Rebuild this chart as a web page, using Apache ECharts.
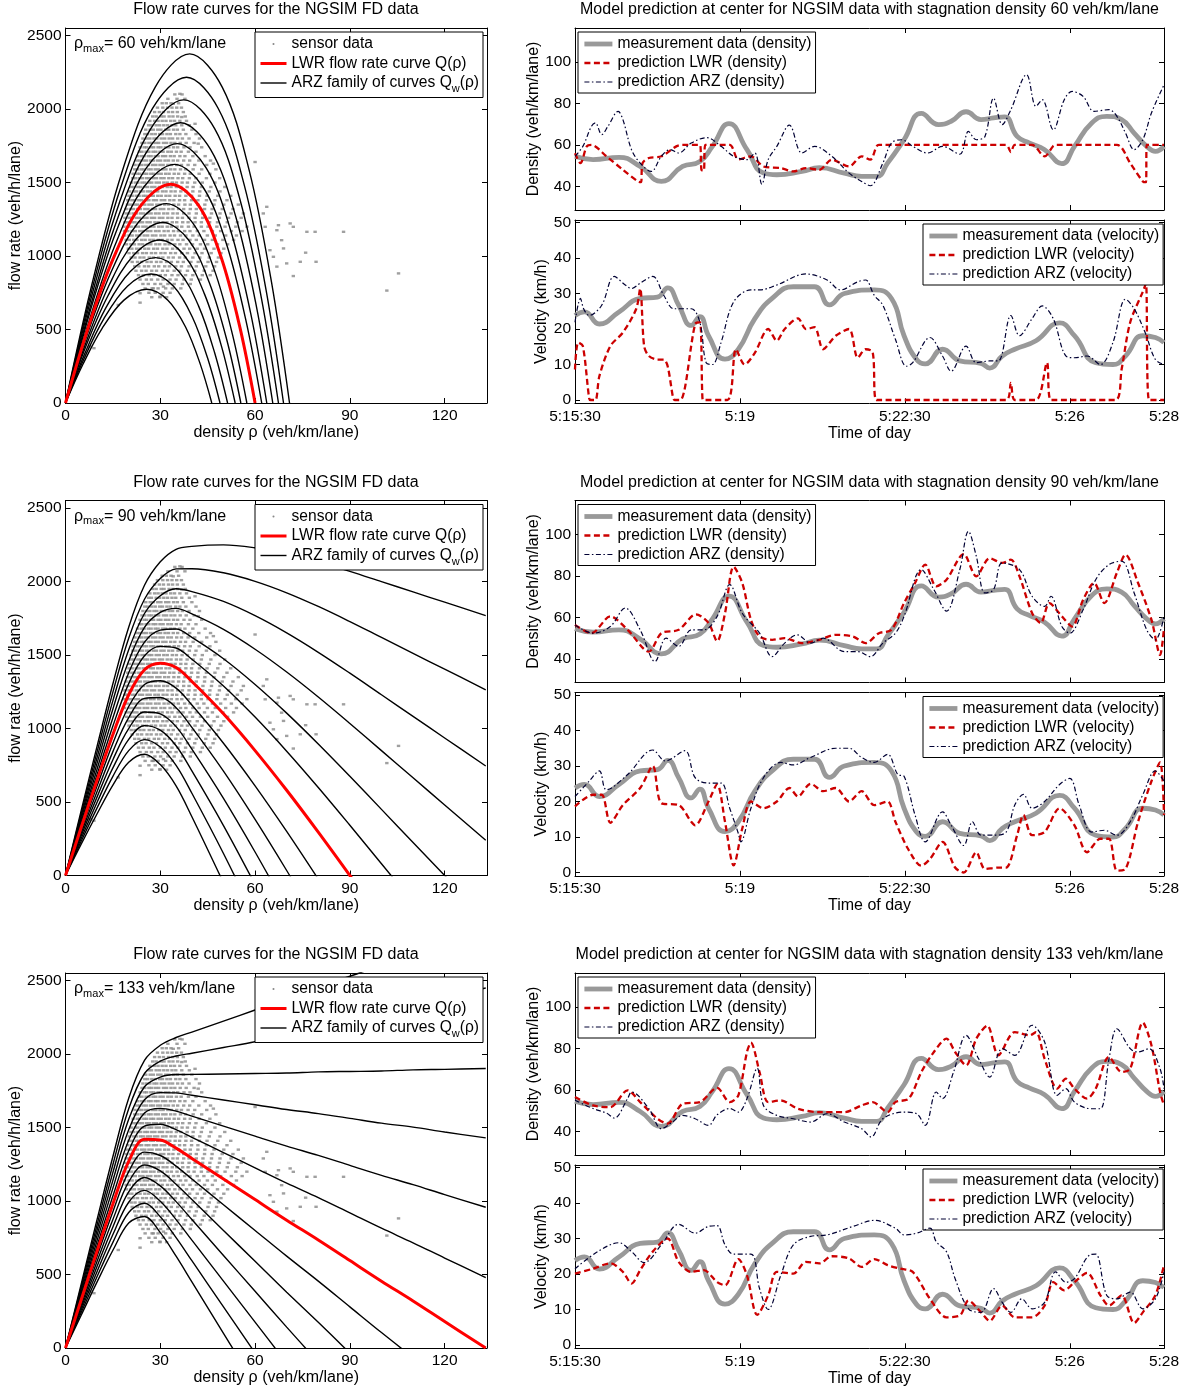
<!DOCTYPE html>
<html><head><meta charset="utf-8">
<script src="https://cdn.jsdelivr.net/npm/echarts@6.0.0/dist/echarts.min.js"></script>
<style>html,body{margin:0;padding:0;background:#fff}#c{width:1188px;height:1388px}</style>
</head><body><div id="c"></div>
<script>
// ---------------- DATA ----------------
const rhoMaxValues = [60, 90, 133];
const fdXTicks = [0, 30, 60, 90, 120];
const fdYTicks = [0, 500, 1000, 1500, 2000, 2500];
const timeTickSec = [0, 210, 420, 630, 750];
const timeTickLabels = ['5:15:30', '5:19', '5:22:30', '5:26', '5:28'];
const denTicks = [40, 60, 80, 100];
const velTicks = [0, 10, 20, 30, 40, 50];

// rho_max = 60 : family of flow curves [density, flow]
const fd60Black = [
 [[0,0],[8.5,820],[17.7,1559],[28.4,2150],[39.3,2376],[49.6,2150],[58.1,1587],[65.2,822],[70.9,0]],
 [[0,0],[8.3,765],[17.3,1454],[27.6,2006],[38.3,2217],[48.3,2006],[56.6,1481],[63.5,767],[69,0]],
 [[0,0],[8.1,712],[16.9,1353],[27,1867],[37.4,2063],[47.2,1867],[55.3,1378],[62,714],[67.4,0]],
 [[0,0],[7.9,658],[16.4,1251],[26.2,1726],[36.4,1907],[45.9,1726],[53.8,1274],[60.4,660],[65.6,0]],
 [[0,0],[7.6,609],[15.9,1158],[25.5,1597],[35.4,1765],[44.6,1597],[52.2,1179],[58.6,611],[63.7,0]],
 [[0,0],[7.5,560],[15.5,1065],[24.8,1470],[34.5,1624],[43.5,1470],[50.9,1085],[57.1,562],[62.1,0]],
 [[0,0],[6.9,468],[14.4,890],[23,1228],[31.9,1357],[40.2,1228],[47.1,906],[52.8,470],[57.4,0]],
 [[0,0],[6.7,424],[13.9,806],[22.2,1111],[30.8,1228],[38.9,1111],[45.5,820],[51.1,425],[55.5,0]],
 [[0,0],[6.4,383],[13.4,728],[21.5,1004],[29.8,1109],[37.6,1004],[44,741],[49.4,384],[53.7,0]],
 [[0,0],[6.2,341],[12.8,649],[20.5,895],[28.5,989],[35.9,895],[42.1,661],[47.2,342],[51.3,0]],
 [[0,0],[5.9,303],[12.2,576],[19.6,795],[27.1,878],[34.2,795],[40.1,587],[45,304],[48.9,0]],
 [[0,0],[5.6,267],[11.6,508],[18.5,700],[25.7,774],[32.4,700],[38,517],[42.6,268],[46.3,0]]
];
const fd60Red = [[0,0],[7.2,514],[15,977],[24,1348],[33.3,1489],[42,1348],[49.2,995],[55.2,515],[60,0]];

// rho_max = 90 and 133 : flow values on a shared density grid
const rhoGrid = [0,5,10,15,20,25,30,35,40,50,60,70,80,90,100,110,120,133];
const fd90Black = [
 [0,445,880,1305,1690,1975,2135,2220,2240,2250,2230,2190,2135,2070,2000,1930,1860,1769],
 [0,426,842,1248,1614,1880,2021,2087,2088,2060,2002,1924,1831,1728,1620,1512,1404,1264],
 [0,407,803,1190,1536,1783,1904,1951,1932,1865,1768,1651,1519,1377,1230,1083,936,745],
 [0,388,765,1133,1460,1688,1790,1818,1780,1675,1540,1385,1215,1035,850,665,480,240],
 [0,368,725,1073,1380,1588,1670,1678,1620,1475,1300,1105,895,675,450,225,0,-293],
 [0,349,688,1017,1306,1495,1559,1548,1472,1290,1078,846,599,342,80,-182],
 [0,310,610,900,1150,1300,1325,1275,1160,900,610,300,-25],
 [0,291,572,843,1074,1205,1211,1142,1008,710,382,34,-329],
 [0,273,535,788,1000,1113,1100,1013,860,525,160,-225],
 [0,254,498,732,926,1020,989,883,712,340,-62],
 [0,235,460,675,850,925,875,750,560,150,-290],
 [0,215,420,615,770,825,755,610,400,-50]
];
const fd90Red = [0,330,650,960,1230,1400,1445,1415,1320,1100,850,580,295,0,-300];
const fd133Black = [
 [0,438,875,1303,1700,1958,2060,2113,2150,2225,2300,2375,2455,2530,2605,2685,2760,2860],
 [0,420,839,1249,1628,1868,1952,1987,2006,2045,2084,2140,2190,2240,2290,2340,2390,2450],
 [0,402,803,1195,1556,1778,1844,1861,1862,1865,1868,1871,1879,1882,1885,1893,1896,1902],
 [0,384,768,1141,1485,1689,1738,1736,1720,1688,1655,1623,1595,1563,1530,1503,1470,1430],
 [0,366,732,1088,1414,1600,1631,1612,1578,1510,1442,1374,1311,1243,1175,1112,1044,958],
 [0,348,696,1034,1342,1510,1523,1486,1434,1330,1226,1122,1023,919,815,716,612,479],
 [0,313,625,928,1200,1333,1310,1238,1150,975,800,625,455,280,105,-65],
 [0,295,590,875,1130,1245,1205,1115,1010,800,590,380,175,-35],
 [0,278,556,824,1062,1160,1103,996,874,630,386,142,-97],
 [0,261,521,772,992,1073,998,874,734,455,176,-103],
 [0,243,486,719,922,985,893,751,594,280,-34],
 [0,225,450,665,850,895,785,625,450,100,-250]
];
const fd133Red = [0,330,660,980,1270,1420,1415,1360,1290,1150,1010,870,735,595,455,320,180,0];

// sensor data: [flow, [densities observed at that flow]]
const sensorRows = [
 [2100,[34.6,36.9]],
 [2070,[32.4,35.3,37.8]],
 [2040,[30.6,31.9,33.4,35.8]],
 [2010,[29.1,30.8,32.3,33.7,35.2,36.7]],
 [1980,[28.2,29.7,31.0,32.6,33.9,35.4,37.3]],
 [1950,[27.6,28.7,30.3,31.2,32.8,34.0,35.5,37.9]],
 [1920,[26.7,28.2,29.3,30.6,31.8,33.3,34.5,36.2,38.3]],
 [1890,[26.3,27.2,28.7,29.8,31.1,32.3,33.7,34.9,36.8,39.2]],
 [1860,[25.4,26.8,27.8,29.2,30.2,31.7,32.7,34.2,35.4,37.3,40.0]],
 [1830,[25.1,26.0,27.3,28.4,29.8,30.7,32.1,33.2,34.9,36.2,38.1,41.3]],
 [1800,[24.5,25.7,26.7,28.0,28.9,30.3,31.4,32.8,33.9,35.5,37.0,39.1,42.4]],
 [1770,[24.2,25.1,26.4,27.3,28.5,29.5,31.0,32.0,33.4,34.6,36.3,38.2,40.7]],
 [1740,[23.6,24.9,25.7,27.0,27.9,29.3,30.2,31.6,32.7,34.2,35.5,37.5,39.4,43.1]],
 [1710,[23.4,24.2,25.5,26.4,27.7,28.6,29.9,30.9,32.4,33.5,35.1,36.6,38.9,41.3]],
 [1680,[22.8,24.0,24.9,26.2,27.1,28.4,29.3,30.7,31.7,33.2,34.4,36.2,37.8,40.3,44.2]],
 [1650,[22.6,23.5,24.7,25.6,26.9,27.8,29.1,30.1,31.5,32.6,34.1,35.5,37.4,39.3,42.2,45.9]],
 [1620,[22.0,23.3,24.2,25.4,26.3,27.6,28.6,29.9,30.9,32.4,33.5,35.2,36.7,38.8,40.9,44.7]],
 [1590,[21.9,22.8,24.0,24.9,26.2,27.1,28.4,29.4,30.8,31.8,33.3,34.6,36.4,38.0,40.4,43.1,47.6]],
 [1560,[21.4,22.7,23.5,24.8,25.7,27.0,27.9,29.3,30.3,31.7,32.8,34.4,35.8,37.7,39.5,42.3,45.7]],
 [1530,[21.3,22.2,23.4,24.3,25.6,26.5,27.8,28.8,30.2,31.2,32.7,33.9,35.6,37.1,39.2,41.3,44.6,48.8]],
 [1500,[20.8,22.1,22.9,24.2,25.1,26.4,27.3,28.7,29.7,31.1,32.2,33.8,35.1,36.9,38.6,40.9,43.3,47.3]],
 [1470,[20.7,21.6,22.9,23.8,25.1,26.0,27.3,28.3,29.7,30.7,32.2,33.4,35.1,36.5,38.5,40.4,43.0,46.0,50.4]],
 [1440,[20.2,21.5,22.4,23.7,24.6,25.9,26.9,28.2,29.2,30.7,31.8,33.4,34.7,36.5,38.1,40.3,42.5,45.5,48.9]],
 [1410,[20.1,21.1,22.4,23.3,24.6,25.5,26.9,27.8,29.2,30.3,31.8,33.0,34.7,36.1,38.1,39.9,42.4,44.8,48.2,52.3]],
 [1380,[19.7,21.0,21.9,23.2,24.1,25.5,26.4,27.8,28.8,30.3,31.4,33.0,34.3,36.1,37.7,39.9,41.9,44.6,47.3,51.1]],
 [1350,[19.6,20.6,21.9,22.8,24.1,25.1,26.4,27.4,28.9,29.9,31.4,32.6,34.3,35.8,37.8,39.5,41.9,44.1,47.0,50.1,54.7]],
 [1320,[19.2,20.5,21.5,22.8,23.7,25.1,26.1,27.5,28.5,30.0,31.1,32.7,34.0,35.8,37.4,39.5,41.4,44.0,46.4,49.6,53.0]],
 [1290,[19.2,20.1,21.4,22.4,23.7,24.7,26.1,27.1,28.5,29.6,31.1,32.3,34.0,35.4,37.4,39.1,41.4,43.5,46.2,48.9,52.4,56.3]],
 [1260,[18.8,20.1,21.0,22.4,23.4,24.8,25.8,27.2,28.2,29.7,30.8,32.4,33.7,35.5,37.0,39.1,41.0,43.4,45.7,48.7,51.6,55.6]],
 [1230,[18.8,19.7,21.1,22.0,23.4,24.4,25.8,26.8,28.3,29.4,30.9,32.1,33.8,35.2,37.1,38.8,41.0,43.0,45.6,48.1,51.2,54.4]],
 [1200,[18.5,19.8,20.8,22.1,23.1,24.5,25.5,26.9,28.0,29.5,30.6,32.2,33.5,35.3,36.8,38.9,40.7,43.0,45.1,47.9,50.5,53.9,57.4]],
 [1170,[18.7,19.7,21.1,22.1,23.5,24.5,25.9,27.0,28.5,29.6,31.2,32.5,34.2,35.7,37.7,39.4,41.7,43.8,46.5,49.1,52.5,55.9]],
 [1140,[18.7,20.1,21.1,22.5,23.5,24.9,26.0,27.5,28.6,30.2,31.4,33.1,34.5,36.4,38.1,40.3,42.3,44.9,47.4,50.7,54.1]],
 [1110,[19.2,20.2,21.6,22.6,24.1,25.2,26.7,27.8,29.4,30.6,32.3,33.7,35.6,37.2,39.4,41.4,44.0,46.5,49.8,53.2]],
 [1080,[19.3,20.7,21.8,23.3,24.4,25.9,27.0,28.6,29.8,31.5,32.8,34.6,36.2,38.3,40.2,42.7,45.0,48.1,51.3]],
 [1050,[19.9,21.0,22.5,23.6,25.1,26.3,27.9,29.1,30.8,32.1,33.9,35.4,37.5,39.3,41.7,44.0,47.0,50.1]],
 [1020,[20.1,21.6,22.8,24.4,25.6,27.2,28.5,30.2,31.5,33.3,34.8,36.8,38.6,41.0,43.2,46.1,49.2]],
 [990,[20.8,22.0,23.6,24.8,26.5,27.8,29.5,30.8,32.6,34.1,36.1,37.9,40.3,42.5,45.5,48.4]],
 [960,[21.1,22.8,24.1,25.8,27.1,28.8,30.2,32.0,33.5,35.5,37.3,39.7,42.0,45.1,47.8]],
 [930,[21.9,23.2,25.0,26.3,28.1,29.5,31.4,32.9,34.9,36.7,39.1,41.4,44.4,47.2]],
 [900,[22.3,24.1,25.5,27.3,28.8,30.7,32.3,34.4,36.2,38.6,40.9,43.9,46.7]],
 [870,[23.1,24.6,26.5,28.0,30.0,31.6,33.7,35.6,38.0,40.3,43.3,45.8]],
 [840,[23.6,25.6,27.2,29.2,30.9,33.1,35.0,37.5,39.8,42.7]],
 [810,[24.5,26.2,28.3,30.1,32.4,34.4,37.0,39.5]],
 [780,[25.2,27.4,29.3,31.7,33.8,36.5]],
 [750,[26.4,28.4,30.9,33.1]],
 [720,[27.3,29.9,32.0]]
];
const sensorOutliers = [[60,1640],[66.9,1176],[67.4,1210],[71.1,1222],[72.1,1199],[76.4,1165],[79,1165],[88,1165],
 [68.4,1108],[69,1052],[70,950],[66.9,928],[72.1,864],[74.3,961],[76,1023],[79.3,961],[101.7,765],[105.4,882],
 [64.7,1040],[65.8,995],[63.2,1199],[63.7,1335],[62.6,1290],[16.7,667],[23.6,683],[23.6,747],[7.7,385],[9,373],
 [29.9,724],[31,792],[27.8,780],[36.2,2104],[36.8,1946],[41,1900],[42,1765],[46.8,1629],[34.1,2036]];

// time series: [seconds after 5:15:30, value]
const measDen = [[0,54.5],[23,52.9],[56,54],[83,49.6],[110,42.4],[137,49.6],[159,52],[175,59.3],[196,70.3],[219,57.7],[240,46.4],[257,45.6],[289,47.2],[311,49],[343,46.4],[365,44.8],[384,44.8],[398,51.2],[419,62.5],[441,75.2],[463,69.8],[479,71.4],[498,76],[517,72.2],[533,73],[547,73.5],[563,64.1],[579,60.9],[598,57.7],[620,51],[636,59.3],[658,70.6],[677,73.8],[696,72.2],[712,65.7],[728,59.3],[739,56.9],[750,59.3]];
const measVel = [[0,23.8],[12,24.8],[31,21.4],[56,24.8],[83,28.6],[105,29],[118,31.6],[132,26.7],[148,21],[159,23.5],[170,18.1],[191,11.5],[208,14.3],[229,22.9],[251,28.6],[278,31.9],[305,31.9],[324,26.8],[343,30],[381,31],[403,28.6],[419,18.1],[435,11.4],[446,10.2],[468,14.3],[490,11],[517,10.3],[528,9],[544,12.4],[560,14.3],[587,16.7],[617,21.7],[636,18.1],[663,10.5],[685,10],[701,12.4],[723,18.1],[739,17.6],[750,16.2]];

const lwrDen60 = [[0,56],[7,51.2],[15,59.3],[21,60],[40,54.5],[61,48],[80,42.4],[84,42],[86,51.2],[94,53.7],[110,54.5],[129,59.3],[137,60],[159,60],[161,48],[164,47.5],[166,60],[197,60],[208,53],[224,54.5],[240,49.6],[262,48.8],[278,47.2],[294,48.8],[311,48],[327,52.9],[349,49.6],[365,54.5],[376,52.9],[384,59.3],[387,60],[549,60],[555,56.5],[560,60],[582,60],[598,54.5],[609,59.5],[612,60],[690,60],[707,51.2],[723,42.4],[727,42],[728,60],[750,60]];
const arzDen60 = [[0,54.5],[10,59.3],[21,69],[26,70.6],[34,65],[42,69],[55,76.2],[61,72.2],[72,57.7],[83,51.2],[97,47.2],[110,54.5],[121,57.7],[132,56.1],[148,60.9],[168,63.5],[186,59.3],[202,54.5],[219,52.9],[229,56.1],[238,41],[246,52.9],[257,59.3],[273,69.5],[289,56.1],[305,59.3],[327,54.5],[349,46.4],[365,42.4],[376,40.3],[392,51.2],[403,60.9],[416,62.5],[430,59.3],[449,56.1],[468,59.3],[490,55.5],[501,66.5],[511,62.5],[522,64.1],[533,82.6],[544,69.8],[555,77],[575,93.9],[587,78.6],[595,81.8],[609,67.3],[623,81.8],[633,85.8],[647,83.4],[661,76.2],[680,77],[690,73.8],[701,65.7],[712,57.7],[723,62.5],[734,75.4],[750,89]];
const lwrVel60 = [[0,8.6],[4,16.2],[10,15.2],[18,0.5],[20,0],[26,0],[31,6.7],[45,15.2],[61,19],[78,25.7],[83,31.4],[88,15.2],[94,12.4],[105,11.4],[113,11.4],[118,9.5],[125,0.5],[127,0],[134,0],[153,21.4],[159,21.9],[162,2],[163,0],[194,0],[205,14.3],[216,10],[229,13.3],[246,20],[257,16.7],[267,20],[284,23],[294,20],[305,20.5],[316,14.3],[332,18.1],[349,20],[360,11.9],[370,14.3],[379,13.5],[384,0],[549,0],[555,4.8],[560,0],[587,0],[601,10.5],[606,0],[688,0],[696,8.6],[707,21.9],[723,30.5],[727,32.8],[731,0],[750,0]];
const arzVel60 = [[0,21.9],[7,28.6],[11,25.7],[18,23.8],[34,26.7],[50,34.8],[64,32.4],[72,31.4],[83,32.9],[99,34.8],[113,29.5],[126,25.7],[148,25.7],[159,21.9],[167,10.5],[175,10],[186,16.2],[202,27.6],[224,31],[235,31],[257,32.4],[294,35.5],[321,33.8],[338,31],[360,33.3],[370,33.8],[381,29.5],[392,26.7],[408,17.1],[422,9.5],[430,10.5],[452,17.6],[468,12.4],[479,8.1],[498,15.2],[511,10.5],[528,11],[539,11],[555,23.8],[566,18.1],[582,22.9],[595,26.5],[609,22.9],[625,12.4],[636,11.9],[652,12.4],[669,10],[685,16.2],[701,28.4],[712,25.7],[726,19],[739,11.4],[750,10]];

const lwrDen90 = [[0,56.4],[21,52.4],[45,60.5],[67,54],[94,43.5],[110,52.4],[132,54],[154,61.5],[170,57.3],[181,48.5],[191,62],[202,84.5],[213,76.6],[224,58.9],[235,50.8],[251,49.2],[267,50],[289,47.6],[311,49.2],[332,51.6],[354,50.8],[370,47.6],[387,52.4],[403,54],[419,66.9],[433,76.6],[446,85.5],[460,75],[473,78.2],[495,90.5],[511,79.8],[528,88.5],[544,86.3],[555,87.9],[566,79.8],[582,62.1],[593,57.3],[604,66.9],[620,60.5],[633,55.6],[647,68.5],[661,76.6],[674,66.9],[690,81.5],[701,90.3],[717,76.6],[734,58.9],[745,41.9],[750,55]];
const arzDen90 = [[0,56.4],[23,52.4],[45,55.6],[64,64.5],[83,54],[102,38.7],[116,50],[132,46],[148,54],[164,54],[181,60.5],[197,75.8],[213,62],[235,52.4],[251,41.1],[267,47.6],[283,51.6],[300,47.6],[316,50],[343,43.5],[360,43.5],[376,41.1],[392,47.6],[408,52.4],[419,60.5],[441,83.1],[457,73.4],[473,63],[490,83.1],[501,101.5],[511,89.5],[522,71.8],[533,73.4],[544,86.3],[566,83.1],[582,70.2],[598,65.3],[606,70.2],[620,55.6],[630,52.4],[647,63.7],[663,78.2],[680,85.5],[696,87.1],[712,71.8],[728,54],[739,49.2],[750,60.5]];
const lwrVel90 = [[0,18.6],[23,21.9],[34,21.9],[45,14],[61,19],[83,23.8],[99,30],[110,19.5],[132,19],[148,14.3],[153,13.3],[170,20],[181,24.8],[191,14.3],[202,2],[213,12.4],[224,20],[240,18.1],[257,20],[273,23.8],[284,21.4],[300,25],[316,22.9],[332,23.8],[349,20],[365,22.9],[381,19],[398,20],[408,14.3],[424,6.7],[441,1.9],[452,3.8],[468,8.6],[484,1.4],[495,0],[511,5.7],[522,1],[539,1.4],[549,1.4],[563,10.5],[571,16.2],[582,10.5],[598,11.4],[617,18.1],[636,13.3],[652,5.7],[669,9.5],[680,9.5],[690,0.5],[701,1],[717,14.3],[734,25.7],[745,31],[750,16.2]];
const arzVel90 = [[0,21.4],[18,25.7],[31,28.6],[40,23.3],[67,27.6],[99,34.5],[115,31.4],[140,34.3],[153,26.7],[170,25.2],[186,25.2],[197,18.1],[208,11],[211,8.6],[224,18.1],[240,26.7],[262,31],[278,30.3],[300,32.4],[332,35],[349,35],[365,32.4],[381,31],[398,33.3],[411,27.6],[419,27.1],[433,16.2],[446,8.6],[468,17.1],[479,13.3],[495,7.6],[506,14.3],[517,10.5],[533,10.5],[549,11.4],[560,19],[571,22],[582,18.1],[598,20],[617,24.8],[630,26.5],[642,19],[658,11.4],[674,11.9],[690,10.5],[707,14.3],[723,21.9],[739,28.6],[750,25.7]];

const lwrDen133 = [[0,56.6],[23,52.5],[45,51.7],[67,59.8],[83,54.1],[105,46.1],[118,43.7],[137,53.3],[159,54.1],[181,61],[197,54.1],[208,57.4],[219,78.3],[224,82.8],[235,68.6],[246,54.1],[262,54.9],[284,50.9],[311,49.3],[343,49.3],[365,52.5],[379,54.1],[398,49.3],[408,54.1],[425,55.8],[441,68.6],[457,78.3],[473,84.7],[484,78.3],[498,71.8],[511,84.7],[525,91],[539,76.7],[560,87.9],[579,86.3],[587,87.9],[598,75],[614,60.6],[625,65.4],[636,60.6],[652,55.8],[663,60.6],[680,75.9],[696,68.6],[707,70.2],[723,92.5],[734,81.5],[745,59],[750,52.5]];
const arzDen133 = [[0,55],[23,51],[40,48.8],[50,46.4],[67,55.8],[72,59],[94,51],[110,41.3],[124,44.5],[137,47.7],[153,46.1],[170,42.9],[181,48],[197,51],[208,49.3],[219,55.8],[232,70.5],[240,52.5],[257,47.7],[278,46.1],[300,44.5],[321,48.5],[343,44.5],[365,41.3],[377,37.3],[392,46.1],[419,49.3],[435,48.5],[446,42.9],[460,59],[468,55.8],[482,68.6],[498,86.3],[514,75],[528,66.2],[544,79.9],[560,76.7],[582,91.2],[598,83.1],[614,57.4],[625,60.6],[636,54.1],[658,50.9],[669,50.9],[680,75],[690,89.5],[707,79.9],[717,78.3],[731,79.9],[745,70.2],[750,60.6]];
const lwrVel133 = [[0,20.1],[23,21.5],[45,23],[61,20.6],[72,17.3],[83,21.1],[99,26.3],[118,30],[132,23.4],[148,20.6],[164,21.1],[181,17.7],[191,16.8],[208,24.2],[219,19.6],[232,8.5],[246,14],[257,20.6],[278,20.1],[294,23.4],[311,23],[327,25],[349,24.4],[365,22],[381,24.2],[398,22.5],[414,21.5],[430,20.6],[452,13],[473,7.8],[490,8.3],[501,12.5],[517,9.2],[528,6.8],[544,11.1],[560,7.8],[582,7.8],[598,11.1],[609,17.7],[623,15.4],[636,17.7],[652,20.3],[669,14],[680,11.1],[696,14],[712,6.2],[723,9.2],[739,14],[750,22.5]];
const arzVel133 = [[0,21.5],[29,26.3],[56,28.8],[72,26.3],[88,23.2],[110,28.2],[132,34],[153,31.5],[170,33.4],[181,33.6],[191,28.2],[202,25.6],[224,25.6],[235,15.9],[246,10],[262,19.6],[278,28.2],[300,30.6],[321,31],[354,33.4],[381,35.1],[408,32.9],[419,31],[435,31.5],[452,32.9],[460,29.1],[473,26.3],[484,18.7],[501,10.2],[517,9.2],[533,15.9],[544,12],[555,9.2],[569,13],[582,10.2],[598,12],[612,20.6],[625,17.7],[636,18.7],[655,25.3],[663,25.6],[677,14],[690,13],[707,14.9],[723,10.2],[739,13],[750,20.6]];

// ---------------- BUILD ----------------
const FONT = '"Liberation Sans", Arial, Helvetica, sans-serif';
const TXT = {fontFamily: FONT, fontSize: 16, color: '#000'};
const LEG = {fontFamily: FONT, fontSize: 15.6, color: '#000'};
const TICK = {fontFamily: FONT, fontSize: 15.5, color: '#000'};
const rowTops = [28, 500.5, 973];
const N_SENSOR = 'sensor data', N_LWR = 'LWR flow rate curve Q(ρ)', N_ARZ = 'ARZ family of curves Q_w(ρ)';
const N_MD = 'measurement data (density)', N_LD = 'prediction LWR (density)', N_AD = 'prediction ARZ (density)';
const N_MV = 'measurement data (velocity)', N_LV = 'prediction LWR (velocity)', N_AV = 'prediction ARZ (velocity)';
const DOT_ICON = 'path://M0,0L0.01,0M11.8,7a1.2,1.2,0,1,0,2.4,0a1.2,1.2,0,1,0,-2.4,0ZM26,14L26.01,14';
const DOT_COLOR = '#888888';

const ST = {
  black: {color: '#000', width: 1.4, type: 'solid'},
  red: {color: '#ff0000', width: 3, type: 'solid'},
  meas: {color: '#999999', width: 4.8, type: 'solid'},
  lwr: {color: '#cc0000', width: 2.3, type: [6, 3.5]},
  arz: {color: '#000033', width: 1.2, type: [5, 2.5, 1.5, 2.5]}
};

const sensorPts = [];
sensorRows.forEach(([q, rs]) => rs.forEach(r => sensorPts.push([r, q])));
sensorOutliers.forEach(p => sensorPts.push(p));
const toPairs = vals => vals.map((v, i) => [rhoGrid[i], v]);

const fdRows = [
  {black: fd60Black, red: fd60Red},
  {black: fd90Black.map(toPairs), red: toPairs(fd90Red)},
  {black: fd133Black.map(toPairs), red: toPairs(fd133Red)}
];
const tsRows = [
  {lD: lwrDen60, aD: arzDen60, lV: lwrVel60, aV: arzVel60},
  {lD: lwrDen90, aD: arzDen90, lV: lwrVel90, aV: arzVel90},
  {lD: lwrDen133, aD: arzDen133, lV: lwrVel133, aV: arzVel133}
];

const grids = [], xAxes = [], yAxes = [], series = [], legends = [], graphics = [];
const tickCfg = vals => ({show: true, inside: true, length: 5, customValues: vals, lineStyle: {color: '#000', width: 1}});
const lineCfg = () => ({show: true, onZero: false, lineStyle: {color: '#000', width: 1}});
const numFmt = v => String(v);

function addPanel(rect, X, Y) {
  const gi = grids.length;
  grids.push(Object.assign({show: false}, rect));
  const xi = xAxes.length, yi = yAxes.length;
  xAxes.push({type: 'value', gridIndex: gi, position: 'bottom', min: X.min, max: X.max,
    axisLine: lineCfg(), axisTick: tickCfg(X.ticks), splitLine: {show: false},
    axisLabel: X.labels ? Object.assign({show: true, customValues: X.ticks, margin: 5, formatter: X.fmt || numFmt}, TICK) : {show: false},
    name: X.name || '', nameLocation: 'middle', nameGap: X.nameGap || 0, nameTextStyle: TXT});
  xAxes.push({type: 'value', gridIndex: gi, position: 'top', min: X.min, max: X.max,
    axisLine: lineCfg(), axisTick: tickCfg(X.ticks), splitLine: {show: false}, axisLabel: {show: false}});
  yAxes.push({type: 'value', gridIndex: gi, position: 'left', min: Y.min, max: Y.max,
    axisLine: lineCfg(), axisTick: tickCfg(Y.ticks), splitLine: {show: false},
    axisLabel: Object.assign({show: true, customValues: Y.ticks, margin: 4, formatter: numFmt}, TICK),
    name: Y.name, nameLocation: 'middle', nameGap: Y.nameGap, nameTextStyle: TXT});
  yAxes.push({type: 'value', gridIndex: gi, position: 'right', min: Y.min, max: Y.max,
    axisLine: lineCfg(), axisTick: tickCfg(Y.ticks), splitLine: {show: false}, axisLabel: {show: false}});
  return {xAxisIndex: xi, yAxisIndex: yi};
}

function lineSeries(name, data, st, smooth, z, idx) {
  return Object.assign({type: 'line', name: name, data: data, smooth: smooth, symbol: 'none', color: st.color,
    lineStyle: Object.assign({}, st), silent: true, z: z}, idx);
}
const legItem = (name, st) => ({name: name, lineStyle: Object.assign({}, st)});

const timeFmt = v => timeTickLabels[timeTickSec.indexOf(v)] || '';
const subRich = {sub: {fontFamily: FONT, fontSize: 11, color: '#000', padding: [12, 0, 0, 0]}};
const annRich = {sub: {fontFamily: FONT, fontSize: 11, color: '#000', padding: [9, 0, 0, 0]}};
const legendBase = {orient: 'vertical', itemHeight: 12, itemGap: 3, padding: [4, 4, 3, 4],
  borderColor: '#000', borderWidth: 1, backgroundColor: '#fff', selectedMode: false,
  itemStyle: {opacity: 0}};

rowTops.forEach((top, r) => {
  // ---- left: flow rate curves ----
  const L = addPanel({left: 65.5, top: top, width: 421.5, height: 375},
    {min: 0, max: 133.4, ticks: fdXTicks, labels: true, name: 'density ρ (veh/km/lane)', nameGap: 20},
    {min: 0, max: 2552, ticks: fdYTicks, name: 'flow rate (veh/h/lane)', nameGap: 42});
  series.push(Object.assign({type: 'scatter', name: N_SENSOR, data: sensorPts, symbol: 'rect', symbolSize: [3.4, 2.4],
    itemStyle: {color: DOT_COLOR}, silent: true, z: 1}, L));
  fdRows[r].black.forEach(c => series.push(lineSeries(N_ARZ, c, ST.black, 0.35, 3, L)));
  series.push(lineSeries(N_LWR, fdRows[r].red, ST.red, 0.35, 4, L));
  legends.push(Object.assign({}, legendBase, {left: 255, top: top + 4, itemWidth: 26, itemGap: 3.5,
    textStyle: Object.assign({rich: subRich}, LEG), formatter: n => n.replace('Q_w', 'Q{sub|w}'),
    data: [{name: N_SENSOR, icon: DOT_ICON, itemStyle: {color: DOT_COLOR, opacity: 1}},
      legItem(N_LWR, ST.red), legItem(N_ARZ, ST.black)]}));
  graphics.push({type: 'text', x: 276, y: top - 18, style: {text: 'Flow rate curves for the NGSIM FD data',
    font: '16px ' + FONT, fill: '#000', align: 'center', verticalAlign: 'middle', textAlign: 'center', textVerticalAlign: 'middle'}});
  graphics.push({type: 'text', x: 74, y: top + 6, z: 10, style: {text: 'ρ{sub|max}= ' + rhoMaxValues[r] + ' veh/km/lane',
    font: '16px ' + FONT, fill: '#000', rich: annRich}});

  // ---- right: density ----
  const D = addPanel({left: 575, top: top, width: 589, height: 182},
    {min: 0, max: 750, ticks: timeTickSec, labels: false},
    {min: 28.6, max: 116.4, ticks: denTicks, name: 'Density (veh/km/lane)', nameGap: 33});
  series.push(lineSeries(N_MD, measDen, ST.meas, 0.5, 2, D));
  series.push(lineSeries(N_LD, tsRows[r].lD, ST.lwr, 0.3, 3, D));
  series.push(lineSeries(N_AD, tsRows[r].aD, ST.arz, 0.35, 4, D));
  legends.push(Object.assign({}, legendBase, {left: 578, top: top + 4, itemWidth: 28,
    textStyle: LEG, data: [legItem(N_MD, ST.meas), legItem(N_LD, ST.lwr), legItem(N_AD, ST.arz)]}));
  graphics.push({type: 'text', x: 869.5, y: top - 18, style: {text: 'Model prediction at center for NGSIM data with stagnation density ' + rhoMaxValues[r] + ' veh/km/lane',
    font: '16px ' + FONT, fill: '#000', align: 'center', verticalAlign: 'middle', textAlign: 'center', textVerticalAlign: 'middle'}});

  // ---- right: velocity ----
  const V = addPanel({left: 575, top: top + 192, width: 589, height: 183.3},
    {min: 0, max: 750, ticks: timeTickSec, labels: true, fmt: timeFmt, name: 'Time of day', nameGap: 20},
    {min: -0.93, max: 50.7, ticks: velTicks, name: 'Velocity (km/h)', nameGap: 25});
  series.push(lineSeries(N_MV, measVel, ST.meas, 0.5, 2, V));
  series.push(lineSeries(N_LV, tsRows[r].lV, ST.lwr, 0.3, 3, V));
  series.push(lineSeries(N_AV, tsRows[r].aV, ST.arz, 0.35, 4, V));
  legends.push(Object.assign({}, legendBase, {left: 923, top: top + 196, itemWidth: 28,
    textStyle: LEG, data: [legItem(N_MV, ST.meas), legItem(N_LV, ST.lwr), legItem(N_AV, ST.arz)]}));
});

const chart = echarts.init(document.getElementById('c'));
chart.setOption({
  animation: false,
  backgroundColor: '#fff',
  grid: grids, xAxis: xAxes, yAxis: yAxes, series: series, legend: legends, graphic: graphics
});
</script></body></html>
